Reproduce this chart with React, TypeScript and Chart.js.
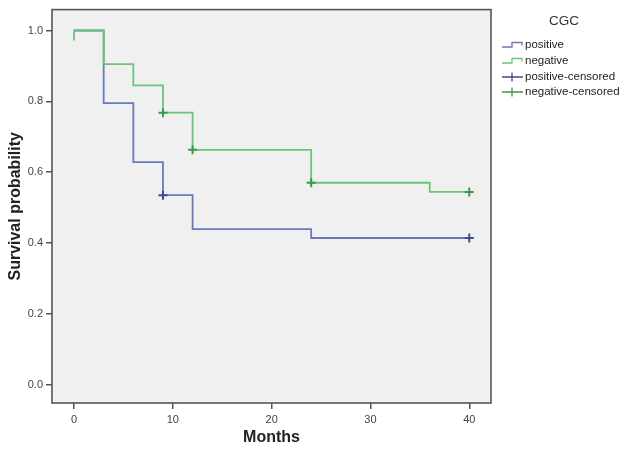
import { useEffect, useRef } from "react";
import { Chart, registerables } from "chart.js";
Chart.register(...registerables);

const positiveMonths = [0, 3, 6, 9, 12, 24, 40];
const positiveSurvival = [1.0, 0.795, 0.628, 0.535, 0.439, 0.414, 0.414];
const negativeMonths = [0, 0, 3, 6, 9, 12, 24, 36, 40];
const negativeSurvival = [0.972, 1.0, 0.905, 0.845, 0.768, 0.663, 0.57, 0.544, 0.544];
const positiveCensoredMonths = [9, 40];
const positiveCensoredSurvival = [0.535, 0.414];
const negativeCensoredMonths = [9, 12, 24, 40];
const negativeCensoredSurvival = [0.768, 0.663, 0.57, 0.544];
const xTickValues = [0, 10, 20, 30, 40];
const yTickValues = [0, 0.2, 0.4, 0.6, 0.8, 1.0];
const legendTitle = "CGC";
const legendLabels = ["positive", "negative", "positive-censored", "negative-censored"];

const FONT = "'Liberation Sans', Arial, sans-serif";
const BLUE_LINE = "#6b79b9";
const GREEN_LINE = "#6cc47c";
const BLUE_MARK = "#3f4c95";
const GREEN_MARK = "#3a9a4c";
const FRAME = "#555555";

const toPoints = (xs: number[], ys: number[]) => xs.map((x, i) => ({ x, y: ys[i] }));

const framePlugin = {
  id: "frame",
  beforeDraw(chart: any) {
    const { ctx, chartArea: a } = chart;
    ctx.save();
    ctx.fillStyle = "#f0f0f0";
    ctx.fillRect(a.left, a.top, a.right - a.left, a.bottom - a.top);
    ctx.restore();
  },
  afterDraw(chart: any) {
    const { ctx, chartArea: a } = chart;
    ctx.save();
    ctx.strokeStyle = FRAME;
    ctx.lineWidth = 1.6;
    ctx.strokeRect(a.left, a.top, a.right - a.left, a.bottom - a.top);
    ctx.restore();

    // legend
    ctx.save();
    ctx.fillStyle = "#333333";
    ctx.font = `13.5px ${FONT}`;
    ctx.textAlign = "center";
    ctx.textBaseline = "middle";
    ctx.fillText(legendTitle, 564, 21);
    ctx.font = `11.5px ${FONT}`;
    ctx.textAlign = "left";
    const rows = [45, 61, 77, 92];
    const colors = [BLUE_LINE, GREEN_LINE, BLUE_MARK, GREEN_MARK];
    legendLabels.forEach((label, i) => {
      const y = rows[i];
      ctx.strokeStyle = colors[i];
      ctx.lineWidth = 1.3;
      ctx.beginPath();
      if (i < 2) {
        ctx.moveTo(502, y + 2);
        ctx.lineTo(512, y + 2);
        ctx.lineTo(512, y - 2.5);
        ctx.lineTo(522, y - 2.5);
        ctx.lineTo(522, y + 0.5);
      } else {
        ctx.moveTo(502, y);
        ctx.lineTo(523, y);
        ctx.moveTo(512, y - 4.5);
        ctx.lineTo(512, y + 4.5);
      }
      ctx.stroke();
      ctx.fillStyle = "#222222";
      ctx.fillText(label, 525, y);
    });
    ctx.restore();
  },
};

export default function App() {
  const ref = useRef<HTMLCanvasElement>(null);
  useEffect(() => {
    document.body.style.margin = "0";
    const chart = new Chart(ref.current!, {
      type: "line",
      data: {
        datasets: [
          {
            label: legendLabels[0],
            data: toPoints(positiveMonths, positiveSurvival),
            borderColor: BLUE_LINE,
            borderWidth: 1.8,
            stepped: "before",
            pointRadius: 0,
            fill: false,
            order: 2,
          },
          {
            label: legendLabels[1],
            data: toPoints(negativeMonths, negativeSurvival),
            borderColor: GREEN_LINE,
            borderWidth: 1.8,
            stepped: "before",
            pointRadius: 0,
            fill: false,
            order: 1,
          },
          {
            label: legendLabels[2],
            data: toPoints(positiveCensoredMonths, positiveCensoredSurvival),
            showLine: false,
            pointStyle: "cross",
            pointRadius: 4.5,
            pointBorderWidth: 2,
            pointBorderColor: BLUE_MARK,
            borderColor: BLUE_MARK,
            order: 0,
          },
          {
            label: legendLabels[3],
            data: toPoints(negativeCensoredMonths, negativeCensoredSurvival),
            showLine: false,
            pointStyle: "cross",
            pointRadius: 4.5,
            pointBorderWidth: 2,
            pointBorderColor: GREEN_MARK,
            borderColor: GREEN_MARK,
            order: 0,
          },
        ],
      } as any,
      options: {
        responsive: false,
        animation: false,
        parsing: false as any,
        layout: { padding: { top: 5, right: 141, left: 0, bottom: 0 } },
        plugins: { legend: { display: false }, tooltip: { enabled: false } },
        scales: {
          x: {
            type: "linear",
            min: -2.23,
            max: 42.2,
            afterBuildTicks: (s: any) => {
              s.ticks = xTickValues.map((v) => ({ value: v }));
            },
            afterFit: (s: any) => {
              s.height = 49;
            },
            border: { display: false },
            grid: { drawOnChartArea: false, drawTicks: true, tickLength: 6, tickColor: FRAME, lineWidth: 1.5 },
            ticks: { padding: 4, color: "#444444", font: { family: FONT, size: 11 }, maxRotation: 0 },
            title: {
              display: true,
              text: "Months",
              color: "#222222",
              font: { family: FONT, size: 16, weight: "bold" },
              padding: { top: 0, bottom: 4.5 },
            },
          },
          y: {
            type: "linear",
            min: -0.052,
            max: 1.059,
            afterBuildTicks: (s: any) => {
              s.ticks = yTickValues.map((v) => ({ value: v }));
            },
            afterFit: (s: any) => {
              s.width = 52;
            },
            border: { display: false },
            grid: { drawOnChartArea: false, drawTicks: true, tickLength: 6, tickColor: FRAME, lineWidth: 1.5 },
            ticks: {
              padding: 3,
              color: "#444444",
              font: { family: FONT, size: 11 },
              callback: (v: any) => Number(v).toFixed(1),
            },
            title: {
              display: true,
              text: "Survival probability",
              color: "#222222",
              font: { family: FONT, size: 16, weight: "bold" },
              padding: { top: 6.4, bottom: 0 },
            },
          },
        },
      } as any,
      plugins: [framePlugin],
    });
    return () => chart.destroy();
  }, []);
  return <canvas ref={ref} width={632} height={452} />;
}
